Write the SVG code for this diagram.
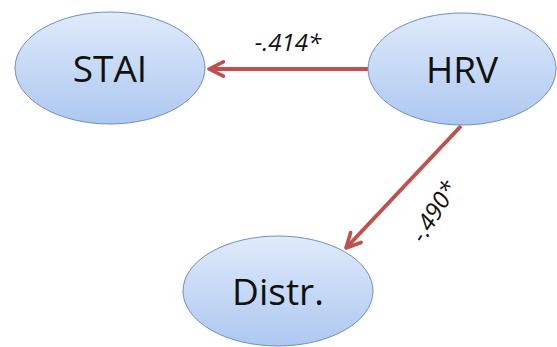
<svg xmlns="http://www.w3.org/2000/svg" width="557" height="347" viewBox="0 0 557 347">
<defs>
<linearGradient id="g" x1="0" y1="0" x2="0" y2="1">
<stop offset="0" stop-color="#e0eafb"/>
<stop offset="1" stop-color="#adc8f0"/>
</linearGradient>
<marker id="ah" viewBox="0 0 10 10" refX="9" refY="5" markerWidth="4.5" markerHeight="4.5" orient="auto" markerUnits="strokeWidth">
<path d="M1,1 L9,5 L1,9" fill="none" stroke="#c0504d" stroke-width="2" stroke-linecap="round" stroke-linejoin="round"/>
</marker>
<style>
.node{fill:url(#g);stroke:#6f8fc0;stroke-width:1}
.lbl{font-family:"Open Sans","Liberation Sans",sans-serif;font-size:37px;fill:#111;text-anchor:middle}
.conn{stroke:#c0504d;stroke-width:4;fill:none;marker-end:url(#ah)}
.el{font-family:"Open Sans","Liberation Sans",sans-serif;font-size:24px;font-style:italic;fill:#111;text-anchor:middle}
</style>
</defs>
<g id="connectors">
<line class="conn" x1="369" y1="69" x2="209" y2="69"/>
<line class="conn" x1="461" y1="126" x2="346" y2="248"/>
<text class="el" x="288" y="51">-.414*</text>
<text class="el" transform="translate(441,216) rotate(-58)">-.490*</text>
</g>
<g id="STAI">
<ellipse class="node" cx="110" cy="68" rx="95" ry="56"/>
<text class="lbl" x="110" y="82">STAI</text>
</g>
<g id="HRV">
<ellipse class="node" cx="462" cy="69" rx="94" ry="56"/>
<text class="lbl" x="462" y="83">HRV</text>
</g>
<g id="Distr">
<ellipse class="node" cx="278" cy="291" rx="95" ry="55"/>
<text class="lbl" x="278" y="305">Distr.</text>
</g>
</svg>
